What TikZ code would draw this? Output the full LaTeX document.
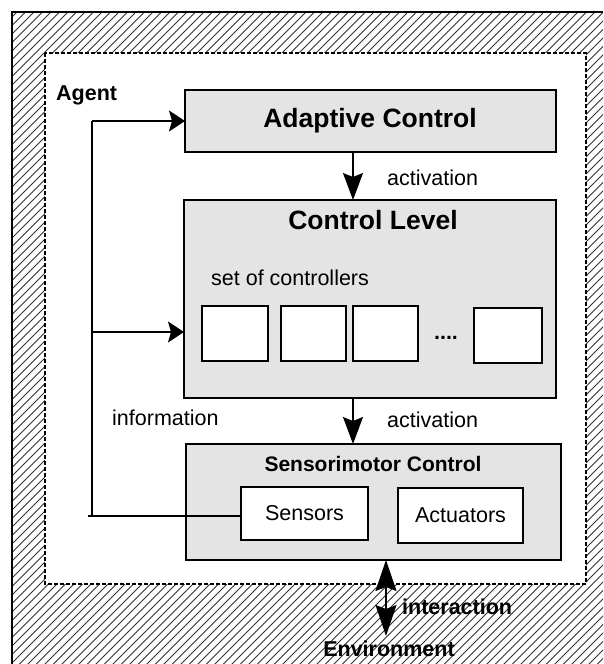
\documentclass[tikz,border=0pt]{standalone}
\usepackage{fontspec}
\setmainfont{Liberation Sans}
\usetikzlibrary{arrows.meta}

\definecolor{boxgray}{HTML}{E4E4E4}
\definecolor{hatchgray}{HTML}{333333}

\begin{document}
\begin{tikzpicture}[x=1pt,y=-1pt,
  box/.style={draw, line width=1.4pt, fill=boxgray, anchor=north west,
    inner sep=0pt, outer sep=0pt},
  slot/.style={box, fill=white},
  title/.style={font=\fontsize{26.5}{30}\selectfont\bfseries, inner sep=0pt},
  subtitle/.style={font=\fontsize{21}{24}\selectfont\bfseries, inner sep=0pt},
  label/.style={font=\fontsize{21.5}{24}\selectfont, inner sep=0pt},
  boldlabel/.style={font=\fontsize{21.5}{24}\selectfont\bfseries, inner sep=0pt},
  wire/.style={line width=1.4pt},
  vhead/.style={wire, -{Stealth[length=27pt,width=20pt,inset=4pt]}},
  hhead/.style={wire, -{Stealth[length=16pt,width=21pt,inset=3pt]}},
  both/.style={wire, {Stealth[length=31pt,width=21pt,inset=4pt]}-{Stealth[length=31pt,width=21pt,inset=4pt]}}
]
\useasboundingbox (0,0) rectangle (603,664);

% environment: hatched field bounded on the left and top
\begin{scope}
  \clip (12,12) rectangle (603,664);
  \foreach \k in {0,...,160} {
    \draw[hatchgray, line width=0.9pt] ({12+\k*8.5-700},{700}) -- ({12+\k*8.5},{0});
  }
\end{scope}
\draw[line width=1.6pt] (12,664) -- (12,12) -- (603,12);

% agent area
\fill[white] (45,53) rectangle (586,584);
\draw[line width=1.2pt, dash pattern=on 4pt off 2pt] (45,53) rectangle (586,584);
\node[boldlabel, anchor=west] (agent) at (56,95) {Agent};

% layers
\node[box, minimum width=371pt, minimum height=62pt] (adapt) at (185,90) {};
\node[title] (adaptT) at (370,121) {Adaptive Control};

\node[box, minimum width=372pt, minimum height=198pt] (ctrl) at (184,200) {};
\node[title] (ctrlT) at (373,220) {Control Level};
\node[label, anchor=west] (set) at (211,278) {set of controllers};
\node[slot, minimum width=66pt, minimum height=55pt] (c1) at (202,306) {};
\node[slot, minimum width=65pt, minimum height=55pt] (c2) at (281,306) {};
\node[slot, minimum width=65pt, minimum height=55pt] (c3) at (353,306) {};
\node[slot, minimum width=68pt, minimum height=55pt] (c4) at (474,308) {};
\node[boldlabel] (dots) at (446,338) {....};

\node[box, minimum width=375pt, minimum height=116pt] (smc) at (186,444) {};
\node[subtitle] (smcT) at (373,464) {Sensorimotor Control};
\node[slot, minimum width=127pt, minimum height=53pt] (sens) at (241,487) {};
\node[label] at (sens.center) {Sensors};
\node[slot, minimum width=125pt, minimum height=55pt] (act) at (398,488) {};
\node[label] at (act.center) {Actuators};

% activation flow
\coordinate (down) at (353,0);
\draw[vhead] (adapt.south -| down) -- (ctrl.north -| down);
\node[label, anchor=west] (act1) at (387,178) {activation};
\draw[vhead] (ctrl.south -| down) -- (smc.north -| down);
\node[label, anchor=west] (act2) at (387,420) {activation};

% information feedback
\coordinate (fbB) at (88,516);
\coordinate (fbL) at (92,516);
\coordinate (fbT) at (92,121);
\draw[wire] (sens.west |- fbB) -- (fbB);
\draw[wire] (fbL) -- (fbT);
\draw[hhead] (fbT) -- (adapt.west |- fbT);
\coordinate (fbM) at (92,332);
\draw[hhead] (fbM) -- (ctrl.west |- fbM);
\node[label, anchor=west] (info) at (112,418) {information};

% interaction with the environment
\node[boldlabel] (env) at (389,649) {Environment};
\coordinate (io) at (386,0);
\draw[both] (smc.south -| io) -- (386,636);
\node[boldlabel, anchor=west] (inter) at (402,607) {interaction};
\end{tikzpicture}
\end{document}
